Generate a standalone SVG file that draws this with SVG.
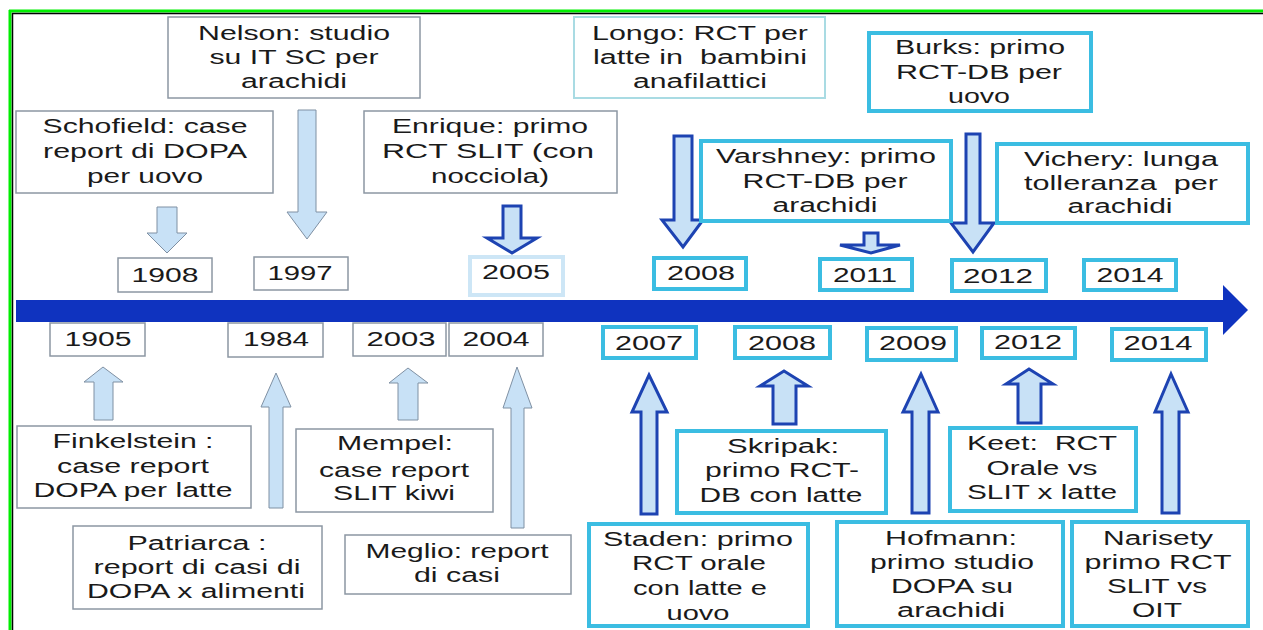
<svg xmlns="http://www.w3.org/2000/svg" width="1263" height="630" viewBox="0 0 1263 630">
<style>
.t{font-family:"Liberation Sans",Arial,sans-serif;font-size:20px;fill:#1a1a1a;text-anchor:middle;white-space:pre}
.g{fill:#fff;stroke:#8c97a3;stroke-width:1.5}
.c{fill:#fff;stroke:#3bbde2;stroke-width:4}
.pl{fill:#fff;stroke:#cde6f6;stroke-width:4}
.lt{fill:#fff;stroke:#a9dbe3;stroke-width:2}
.la{fill:#c8e1f6;stroke:#7f90a3;stroke-width:1}
.da{fill:#c8e1f6;stroke:#1d43b2;stroke-width:3;stroke-linejoin:miter}
</style>
<rect width="1263" height="630" fill="#fff"/>
<g id="frame">
<line x1="10" y1="10" x2="10" y2="630" stroke="#00ee00" stroke-width="3"/>
<line x1="9" y1="11" x2="1263" y2="11" stroke="#00ee00" stroke-width="3"/>
<line x1="12.5" y1="13" x2="12.5" y2="630" stroke="#000" stroke-width="1.5"/>
<line x1="12" y1="13.5" x2="1263" y2="13.5" stroke="#000" stroke-width="1.5"/>
</g>
<g id="timeline">
<polygon points="16,300 1223,300 1223,285 1248,310 1223,335 1223,322 16,322" fill="#0f33bf"/>
</g>
<g id="connectors">
<polygon class="la" points="157,207 177,207 177,233 187,233 167,253 147,233 157,233"/>
<polygon class="la" points="298,110 316,110 316,212 327,212 307,239 287,212 298,212"/>
<polygon class="da" points="503,206 521,206 521,238 537,238 512,253 487,238 503,238"/>
<polygon class="da" points="674,136 692,136 692,220 703,220 683,247 662,220 674,220"/>
<polygon class="da" points="864,233 878,233 878,245 900,245 871,253 840,245 864,245"/>
<polygon class="da" points="966,134 980,134 980,223 994,223 973,252 951,223 966,223"/>
<polygon class="la" points="103,367 123,382 113,382 113,420 94,420 94,382 84,382"/>
<polygon class="la" points="276,373 291,407 283,407 283,508 269,508 269,407 261,407"/>
<polygon class="la" points="408,368 428,383 418,383 418,420 398,420 398,383 389,383"/>
<polygon class="la" points="517,367 532,408 524,408 524,528 511,528 511,408 503,408"/>
<polygon class="da" points="649,375 667,412 657,412 657,514 641,514 641,412 632,412"/>
<polygon class="da" points="784,371 808,386 796,386 796,424 773,424 773,386 760,386"/>
<polygon class="da" points="921,374 938,412 929,412 929,513 912,513 912,412 903,412"/>
<polygon class="da" points="1029,369 1053,384 1041,384 1041,423 1018,423 1018,384 1006,384"/>
<polygon class="da" points="1171,374 1188,412 1179,412 1179,513 1162,513 1162,412 1155,412"/>
</g>
<g id="nelson"><rect class="g" x="168" y="17" width="252" height="81"/>
<text class="t" x="294" y="40" textLength="192" lengthAdjust="spacingAndGlyphs">Nelson: studio</text>
<text class="t" x="294" y="64" textLength="169" lengthAdjust="spacingAndGlyphs">su IT SC per</text>
<text class="t" x="294" y="88" textLength="106" lengthAdjust="spacingAndGlyphs">arachidi</text></g>
<g id="schofield"><rect class="g" x="16" y="111" width="257" height="82"/>
<text class="t" x="145" y="133" textLength="205" lengthAdjust="spacingAndGlyphs">Schofield: case</text>
<text class="t" x="145" y="158" textLength="204" lengthAdjust="spacingAndGlyphs">report di DOPA</text>
<text class="t" x="145" y="183" textLength="116" lengthAdjust="spacingAndGlyphs">per uovo</text></g>
<g id="enrique"><rect class="g" x="364" y="111" width="253" height="82"/>
<text class="t" x="490" y="133" textLength="196" lengthAdjust="spacingAndGlyphs">Enrique: primo</text>
<text class="t" x="488" y="158" textLength="212" lengthAdjust="spacingAndGlyphs">RCT SLIT (con</text>
<text class="t" x="490" y="183" textLength="118" lengthAdjust="spacingAndGlyphs">nocciola)</text></g>
<g id="longo"><rect class="lt" x="574" y="17" width="251" height="81"/>
<text class="t" x="700" y="40" textLength="216" lengthAdjust="spacingAndGlyphs">Longo: RCT per</text>
<text class="t" x="700" y="64" textLength="214" lengthAdjust="spacingAndGlyphs">latte in  bambini</text>
<text class="t" x="700" y="88" textLength="134" lengthAdjust="spacingAndGlyphs">anafilattici</text></g>
<g id="varshney"><rect class="c" x="701" y="141" width="250" height="80"/>
<text class="t" x="826" y="163" textLength="220" lengthAdjust="spacingAndGlyphs">Varshney: primo</text>
<text class="t" x="825" y="188" textLength="165" lengthAdjust="spacingAndGlyphs">RCT-DB per</text>
<text class="t" x="825" y="212" textLength="105" lengthAdjust="spacingAndGlyphs">arachidi</text></g>
<g id="burks"><rect class="c" x="869" y="33" width="222" height="78"/>
<text class="t" x="980" y="54" textLength="170" lengthAdjust="spacingAndGlyphs">Burks: primo</text>
<text class="t" x="979" y="79" textLength="166" lengthAdjust="spacingAndGlyphs">RCT-DB per</text>
<text class="t" x="979" y="103" textLength="62" lengthAdjust="spacingAndGlyphs">uovo</text></g>
<g id="vichery"><rect class="c" x="997" y="144" width="251" height="79"/>
<text class="t" x="1121" y="166" textLength="194" lengthAdjust="spacingAndGlyphs">Vichery: lunga</text>
<text class="t" x="1121" y="190" textLength="194" lengthAdjust="spacingAndGlyphs">tolleranza  per</text>
<text class="t" x="1120" y="213" textLength="105" lengthAdjust="spacingAndGlyphs">arachidi</text></g>
<g id="y1908"><rect class="g" x="118" y="258" width="94" height="34"/><text class="t" x="165" y="282" textLength="67" lengthAdjust="spacingAndGlyphs">1908</text></g>
<g id="y1997"><rect class="g" x="254" y="257" width="94" height="33"/><text class="t" x="300" y="280" textLength="65" lengthAdjust="spacingAndGlyphs">1997</text></g>
<g id="y2005"><rect class="pl" x="470" y="257" width="93" height="38"/><text class="t" x="516" y="279" textLength="68" lengthAdjust="spacingAndGlyphs">2005</text></g>
<g id="y2008top"><rect class="c" x="654" y="258" width="92" height="31"/><text class="t" x="701" y="280" textLength="68" lengthAdjust="spacingAndGlyphs">2008</text></g>
<g id="y2011"><rect class="c" x="820" y="259" width="92" height="31"/><text class="t" x="865" y="282" textLength="64" lengthAdjust="spacingAndGlyphs">2011</text></g>
<g id="y2012top"><rect class="c" x="952" y="260" width="94" height="31"/><text class="t" x="998" y="283" textLength="70" lengthAdjust="spacingAndGlyphs">2012</text></g>
<g id="y2014top"><rect class="c" x="1084" y="260" width="92" height="30"/><text class="t" x="1130" y="282" textLength="67" lengthAdjust="spacingAndGlyphs">2014</text></g>
<g id="y1905"><rect class="g" x="50" y="323" width="95" height="33"/><text class="t" x="98" y="346" textLength="67" lengthAdjust="spacingAndGlyphs">1905</text></g>
<g id="y1984"><rect class="g" x="228" y="323" width="95" height="34"/><text class="t" x="276" y="346" textLength="66" lengthAdjust="spacingAndGlyphs">1984</text></g>
<g id="y2003"><rect class="g" x="353" y="323" width="93" height="33"/><text class="t" x="401" y="346" textLength="69" lengthAdjust="spacingAndGlyphs">2003</text></g>
<g id="y2004"><rect class="g" x="449" y="323" width="94" height="33"/><text class="t" x="496" y="346" textLength="67" lengthAdjust="spacingAndGlyphs">2004</text></g>
<g id="y2007"><rect class="c" x="603" y="327" width="93" height="31"/><text class="t" x="649" y="350" textLength="68" lengthAdjust="spacingAndGlyphs">2007</text></g>
<g id="y2008bottom"><rect class="c" x="735" y="327" width="95" height="31"/><text class="t" x="782" y="350" textLength="68" lengthAdjust="spacingAndGlyphs">2008</text></g>
<g id="y2009"><rect class="c" x="867" y="328" width="89" height="32"/><text class="t" x="913" y="350" textLength="68" lengthAdjust="spacingAndGlyphs">2009</text></g>
<g id="y2012bottom"><rect class="c" x="982" y="328" width="93" height="30"/><text class="t" x="1028" y="349" textLength="68" lengthAdjust="spacingAndGlyphs">2012</text></g>
<g id="y2014bottom"><rect class="c" x="1112" y="329" width="94" height="31"/><text class="t" x="1158" y="350" textLength="69" lengthAdjust="spacingAndGlyphs">2014</text></g>
<g id="finkelstein"><rect class="g" x="17" y="426" width="234" height="82"/>
<text class="t" x="133" y="448" textLength="161" lengthAdjust="spacingAndGlyphs">Finkelstein :</text>
<text class="t" x="133" y="473" textLength="152" lengthAdjust="spacingAndGlyphs">case report</text>
<text class="t" x="133" y="497" textLength="199" lengthAdjust="spacingAndGlyphs">DOPA per latte</text></g>
<g id="patriarca"><rect class="g" x="73" y="526" width="249" height="83"/>
<text class="t" x="197" y="550" textLength="139" lengthAdjust="spacingAndGlyphs">Patriarca :</text>
<text class="t" x="197" y="574" textLength="207" lengthAdjust="spacingAndGlyphs">report di casi di</text>
<text class="t" x="196" y="598" textLength="218" lengthAdjust="spacingAndGlyphs">DOPA x alimenti</text></g>
<g id="mempel"><rect class="g" x="296" y="429" width="197" height="83"/>
<text class="t" x="395" y="450" textLength="116" lengthAdjust="spacingAndGlyphs">Mempel:</text>
<text class="t" x="394" y="477" textLength="150" lengthAdjust="spacingAndGlyphs">case report</text>
<text class="t" x="394" y="500" textLength="122" lengthAdjust="spacingAndGlyphs">SLIT kiwi</text></g>
<g id="meglio"><rect class="g" x="345" y="535" width="226" height="59"/>
<text class="t" x="457" y="558" textLength="183" lengthAdjust="spacingAndGlyphs">Meglio: report</text>
<text class="t" x="457" y="582" textLength="86" lengthAdjust="spacingAndGlyphs">di casi</text></g>
<g id="skripak"><rect class="c" x="677" y="431" width="209" height="82"/>
<text class="t" x="783" y="453" textLength="112" lengthAdjust="spacingAndGlyphs">Skripak:</text>
<text class="t" x="782" y="477" textLength="154" lengthAdjust="spacingAndGlyphs">primo RCT-</text>
<text class="t" x="781" y="502" textLength="163" lengthAdjust="spacingAndGlyphs">DB con latte</text></g>
<g id="staden"><rect class="c" x="589" y="524" width="219" height="102"/>
<text class="t" x="698" y="546" textLength="190" lengthAdjust="spacingAndGlyphs">Staden: primo</text>
<text class="t" x="699" y="570" textLength="134" lengthAdjust="spacingAndGlyphs">RCT orale</text>
<text class="t" x="700" y="595" textLength="134" lengthAdjust="spacingAndGlyphs">con latte e</text>
<text class="t" x="698" y="620" textLength="63" lengthAdjust="spacingAndGlyphs">uovo</text></g>
<g id="keet"><rect class="c" x="950" y="428" width="186" height="83"/>
<text class="t" x="1042" y="450" textLength="150" lengthAdjust="spacingAndGlyphs">Keet:  RCT</text>
<text class="t" x="1042" y="475" textLength="111" lengthAdjust="spacingAndGlyphs">Orale vs</text>
<text class="t" x="1042" y="499" textLength="150" lengthAdjust="spacingAndGlyphs">SLIT x latte</text></g>
<g id="hofmann"><rect class="c" x="837" y="522" width="226" height="104"/>
<text class="t" x="951" y="545" textLength="132" lengthAdjust="spacingAndGlyphs">Hofmann:</text>
<text class="t" x="952" y="569" textLength="164" lengthAdjust="spacingAndGlyphs">primo studio</text>
<text class="t" x="952" y="593" textLength="122" lengthAdjust="spacingAndGlyphs">DOPA su</text>
<text class="t" x="951" y="617" textLength="108" lengthAdjust="spacingAndGlyphs">arachidi</text></g>
<g id="narisety"><rect class="c" x="1072" y="522" width="176" height="104"/>
<text class="t" x="1158" y="545" textLength="110" lengthAdjust="spacingAndGlyphs">Narisety</text>
<text class="t" x="1158" y="569" textLength="147" lengthAdjust="spacingAndGlyphs">primo RCT</text>
<text class="t" x="1157" y="593" textLength="100" lengthAdjust="spacingAndGlyphs">SLIT vs</text>
<text class="t" x="1157" y="617" textLength="50" lengthAdjust="spacingAndGlyphs">OIT</text></g>
</svg>
